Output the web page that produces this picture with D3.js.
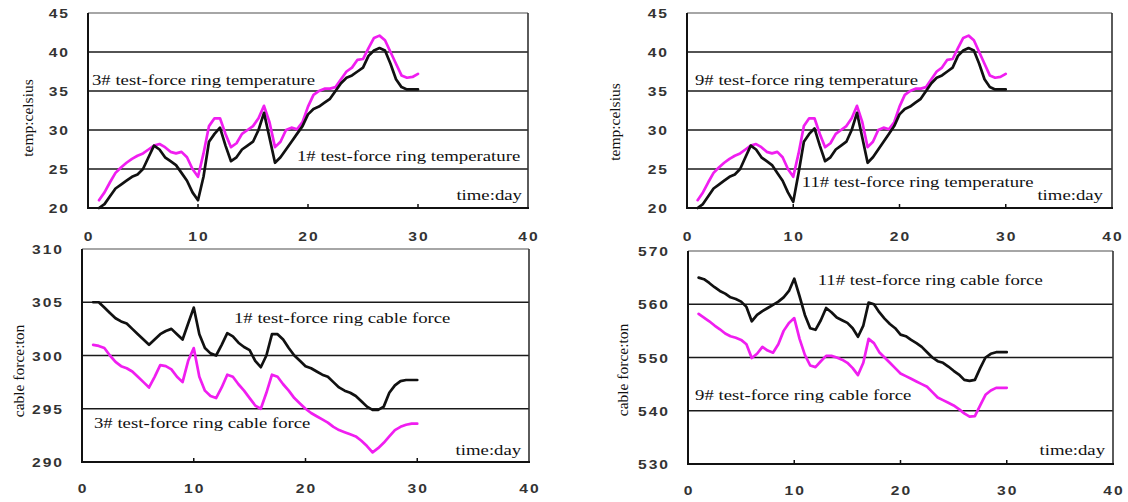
<!DOCTYPE html>
<html><head><meta charset="utf-8">
<script src="https://cdn.jsdelivr.net/npm/d3@7"></script>
<style>html,body{margin:0;padding:0;background:#fff;} svg{display:block}</style>
</head><body>
<svg id="c" width="1128" height="502"></svg>
<script>
// ---------- data ----------
const days = [1,1.5,2,2.5,3,3.5,4,4.5,5,5.5,6,6.5,7,7.5,8,8.5,9,9.5,10,10.5,
  11,11.5,12,12.5,13,13.5,14,14.5,15,15.5,16,16.5,17,17.5,18,18.5,19,19.5,20,20.5,
  21,21.5,22,22.5,23,23.5,24,24.5,25,25.5,26,26.5,27,27.5,28,28.5,29,29.5,30];
const dayTicks = [0,10,20,30,40];
const tempTicks = [20,25,30,35,40,45];
const forceATicks = [290,295,300,305,310];
const forceBTicks = [530,540,550,560,570];

// 1# / 3# temperature (top-left)
const temp1 = [20,20.5,21.5,22.5,23,23.5,24,24.3,25,26.5, 28,27.5,26.5,26,25.5,24.5,23.5,22,21,24,
  28.5,29.5,30.3,28,26,26.5,27.5,28,28.5,30, 32.2,29,25.8,26.5,27.5,28.5,29.5,30.5,32,32.7,
  33,33.5,34,35,36,36.7,37,37.5,38,39.5, 40.2,40.5,40.2,38.5,36.5,35.5,35.2,35.2,35.2];
const temp3 = [21,22,23.3,24.5,25.2,25.8,26.3,26.7,27,27.5, 28,28.2,27.8,27.2,27,27.2,26.5,25,24,27,
  30.5,31.5,31.5,29.5,27.8,28.3,29.5,30,30.5,31.5, 33.1,31,27.8,28.5,30,30.3,30.1,31,33,34.5,
  35,35.3,35.3,35.5,36.5,37.5,38,39,39.1,40.5, 41.8,42.1,41.5,40,38.5,37,36.7,36.8,37.2];
// 11# / 9# temperature (top-right)
const temp11 = [20,20.5,21.5,22.5,23,23.5,24,24.3,25,26.5, 28,27.5,26.5,26,25.5,24.5,23.5,22,20.8,24.5,
  28.5,29.5,30.2,28,26,26.5,27.5,28,28.5,30, 32.2,29,25.8,26.5,27.5,28.5,29.5,30.5,32,32.7,
  33,33.5,34,35,36,36.7,37,37.5,38,39.5, 40.2,40.5,40.2,38.5,36.5,35.5,35.2,35.2,35.2];
const temp9 = [21,22,23.3,24.5,25.2,25.8,26.3,26.7,27,27.5, 28,28.2,27.8,27.2,27,27.2,26.5,25,24,27,
  30.5,31.5,31.5,29.5,27.8,28.3,29.5,30,30.5,31.5, 33.1,31,27.8,28.5,30,30.3,30.1,31,33,34.5,
  35,35.3,35.3,35.5,36.5,37.5,38,39,39.1,40.5, 41.8,42.1,41.5,40,38.5,37,36.7,36.8,37.2];
// 1# / 3# cable force (bottom-left)
const force1 = [305,305,304.5,304,303.5,303.2,303,302.5,302,301.5, 301,301.5,302,302.3,302.5,302,301.5,303,304.5,302,
  300.7,300.2,300,301,302.1,301.8,301.2,300.8,300.5,299.5, 298.9,300,302,302,301.5,300.7,300,299.5,299,298.8,
  298.5,298.2,298,297.5,297,296.7,296.5,296.2,295.7,295.2, 294.9,294.9,295.2,296.5,297.2,297.6,297.7,297.7,297.7];
const force3 = [301,300.9,300.7,300,299.4,299,298.8,298.5,298,297.5, 297,298,299.1,299,298.7,298,297.5,299.5,300.7,298,
  296.7,296.2,296,297,298.2,298,297.3,296.7,296,295.3, 295,296.5,298.2,298,297.3,296.7,296,295.5,295,294.6,
  294.3,294,293.7,293.3,293,292.8,292.6,292.4,292,291.5, 290.9,291.3,291.8,292.4,293,293.3,293.5,293.6,293.6];
// 11# / 9# cable force (bottom-right)
const force11 = [565,564.7,564,563.2,562.5,562,561.3,561,560.5,559.5, 556.8,558,558.7,559.3,559.9,560.5,561.3,562.5,564.8,561.5,
  558,555.5,555.2,557,559.3,558.5,557.5,557,556.5,555.5, 553.9,556,560.3,560,558.5,557.3,556.3,555.5,554.3,554,
  553.3,552.7,552,551,550,549.3,549,548.3,547.5,546.8, 545.8,545.6,545.8,548,550,550.7,551,551,551];
const force9 = [558.2,557.5,556.8,556,555.3,554.5,554,553.7,553.3,552.5, 549.9,550.7,552,551.3,550.9,552.5,555,556.5,557.4,553.5,
  550.5,548.5,548.2,549.3,550.3,550.3,550,549.6,549,548, 546.7,549,553.5,552.7,551,550,549,548,547,546.5,
  546,545.5,545,544.5,543.5,542.5,542,541.5,541,540.3, 539.5,538.9,539,541,543,543.8,544.3,544.3,544.3];

const labelTexts = {
  tl: ["3# test-force ring temperature", "1# test-force ring temperature"],
  bl: ["1# test-force ring cable force", "3# test-force ring cable force"],
  tr: ["9# test-force ring temperature", "11# test-force ring temperature"],
  br: ["11# test-force ring cable force", "9# test-force ring cable force"]
};
const xTitle = "time:day";
const yTitles = ["temp:celsius", "cable force:ton"];

// ---------- drawing ----------
const svg = d3.select("#c");
const MAGENTA = "#f01ef0", BLACK = "#111";
const SX = 1.25; // horizontal text stretch of the original image

function panel(o) {
  const g = svg.append("g");
  const x = d3.scaleLinear().domain([0, 40]).range([o.x0, o.x1]);
  const y = d3.scaleLinear().domain([o.ticks[0], o.ticks[o.ticks.length - 1]]).range([o.y1, o.y0]);

  // gridlines
  g.selectAll("line.grid").data(o.ticks.slice(1, -1)).join("line")
    .attr("x1", o.x0).attr("x2", o.x1)
    .attr("y1", d => y(d)).attr("y2", d => y(d))
    .attr("stroke", "#1a1a1a").attr("stroke-width", 1.7);

  // frame
  g.append("line").attr("x1", o.x0).attr("x2", o.x1).attr("y1", o.y0).attr("y2", o.y0)
    .attr("stroke", "#888").attr("stroke-width", 1.4);
  g.append("line").attr("x1", o.x1).attr("x2", o.x1).attr("y1", o.y0).attr("y2", o.y1)
    .attr("stroke", "#333").attr("stroke-width", 1.6);
  g.append("line").attr("x1", o.x0).attr("x2", o.x0).attr("y1", o.y0).attr("y2", o.y1 + 1)
    .attr("stroke", "#111").attr("stroke-width", 2);
  g.append("line").attr("x1", o.x0).attr("x2", o.x1 + 1).attr("y1", o.y1).attr("y2", o.y1)
    .attr("stroke", "#111").attr("stroke-width", 2);
  // small inward ticks on x axis
  g.selectAll("line.xt").data(dayTicks.slice(1, -1)).join("line")
    .attr("x1", d => x(d)).attr("x2", d => x(d)).attr("y1", o.y1).attr("y2", o.y1 - 4)
    .attr("stroke", "#111").attr("stroke-width", 1.5);

  // y tick labels
  g.selectAll("text.yt").data(o.ticks).join("text")
    .attr("transform", d => `translate(${o.x0 - 18},${y(d) + 5}) scale(${SX},1)`)
    .attr("text-anchor", "end")
    .attr("font-family", "Liberation Sans, Arial, sans-serif")
    .attr("font-weight", "bold").attr("font-size", 12.5)
    .attr("letter-spacing", 1.6).attr("fill", "#333")
    .text(d => d);
  // x tick labels
  g.selectAll("text.xl").data(dayTicks).join("text")
    .attr("transform", d => `translate(${x(d) + 1},${o.y1 + o.xlab}) scale(${SX},1)`)
    .attr("text-anchor", "middle")
    .attr("font-family", "Liberation Sans, Arial, sans-serif")
    .attr("font-weight", "bold").attr("font-size", 12.5)
    .attr("letter-spacing", 1.6).attr("fill", "#333")
    .text(d => d);

  // y title
  g.append("text")
    .attr("transform", `translate(${o.ytx},${o.yty}) rotate(-90)`)
    .attr("text-anchor", "middle")
    .attr("font-family", "Liberation Serif, Times New Roman, serif")
    .attr("font-size", 15.5).attr("fill", "#111")
    .text(o.ytitle);

  // series
  const line = d3.line().x((d, i) => x(days[i])).y(d => y(d));
  o.series.forEach(s => {
    g.append("path").datum(s.values)
      .attr("d", line).attr("fill", "none")
      .attr("stroke", s.color).attr("stroke-width", 2.7)
      .attr("stroke-linejoin", "round").attr("stroke-linecap", "round");
  });

  // annotations (positioned in data coordinates)
  o.notes.forEach(n => {
    g.append("text")
      .attr("transform", `translate(${x(n.day)},${y(n.val)}) scale(${SX},1)`)
      .attr("text-anchor", n.anchor || "start")
      .attr("font-family", "Liberation Serif, Times New Roman, serif")
      .attr("font-size", 15).attr("fill", "#111")
      .text(n.text);
  });
}

panel({ x0: 88, x1: 528, y0: 13, y1: 208, ticks: tempTicks, xlab: 33,
  ytitle: yTitles[0], ytx: 33, yty: 118,
  series: [{ values: temp3, color: MAGENTA }, { values: temp1, color: BLACK }],
  notes: [{ text: labelTexts.tl[0], day: 0.36, val: 35.8 },
          { text: labelTexts.tl[1], day: 19.0, val: 26.0 },
          { text: xTitle, day: 39.45, val: 21.0, anchor: "end" }] });

panel({ x0: 82, x1: 529, y0: 249, y1: 462, ticks: forceATicks, xlab: 31,
  ytitle: yTitles[1], ytx: 24, yty: 371,
  series: [{ values: force3, color: MAGENTA }, { values: force1, color: BLACK }],
  notes: [{ text: labelTexts.bl[0], day: 13.6, val: 303.05 },
          { text: labelTexts.bl[1], day: 1.07, val: 293.2 },
          { text: xTitle, day: 39.3, val: 290.66, anchor: "end" }] });

panel({ x0: 687, x1: 1112, y0: 13, y1: 208, ticks: tempTicks, xlab: 33,
  ytitle: yTitles[0], ytx: 620, yty: 122,
  series: [{ values: temp9, color: MAGENTA }, { values: temp11, color: BLACK }],
  notes: [{ text: labelTexts.tr[0], day: 0.75, val: 35.8 },
          { text: labelTexts.tr[1], day: 10.8, val: 22.7 },
          { text: xTitle, day: 39.15, val: 21.0, anchor: "end" }] });

panel({ x0: 688, x1: 1113, y0: 251, y1: 464, ticks: forceBTicks, xlab: 31,
  ytitle: yTitles[1], ytx: 628, yty: 370,
  series: [{ values: force9, color: MAGENTA }, { values: force11, color: BLACK }],
  notes: [{ text: labelTexts.br[0], day: 12.2, val: 563.6 },
          { text: labelTexts.br[1], day: 0.66, val: 542.0 },
          { text: xTitle, day: 39.25, val: 531.7, anchor: "end" }] });
</script>
</body></html>
